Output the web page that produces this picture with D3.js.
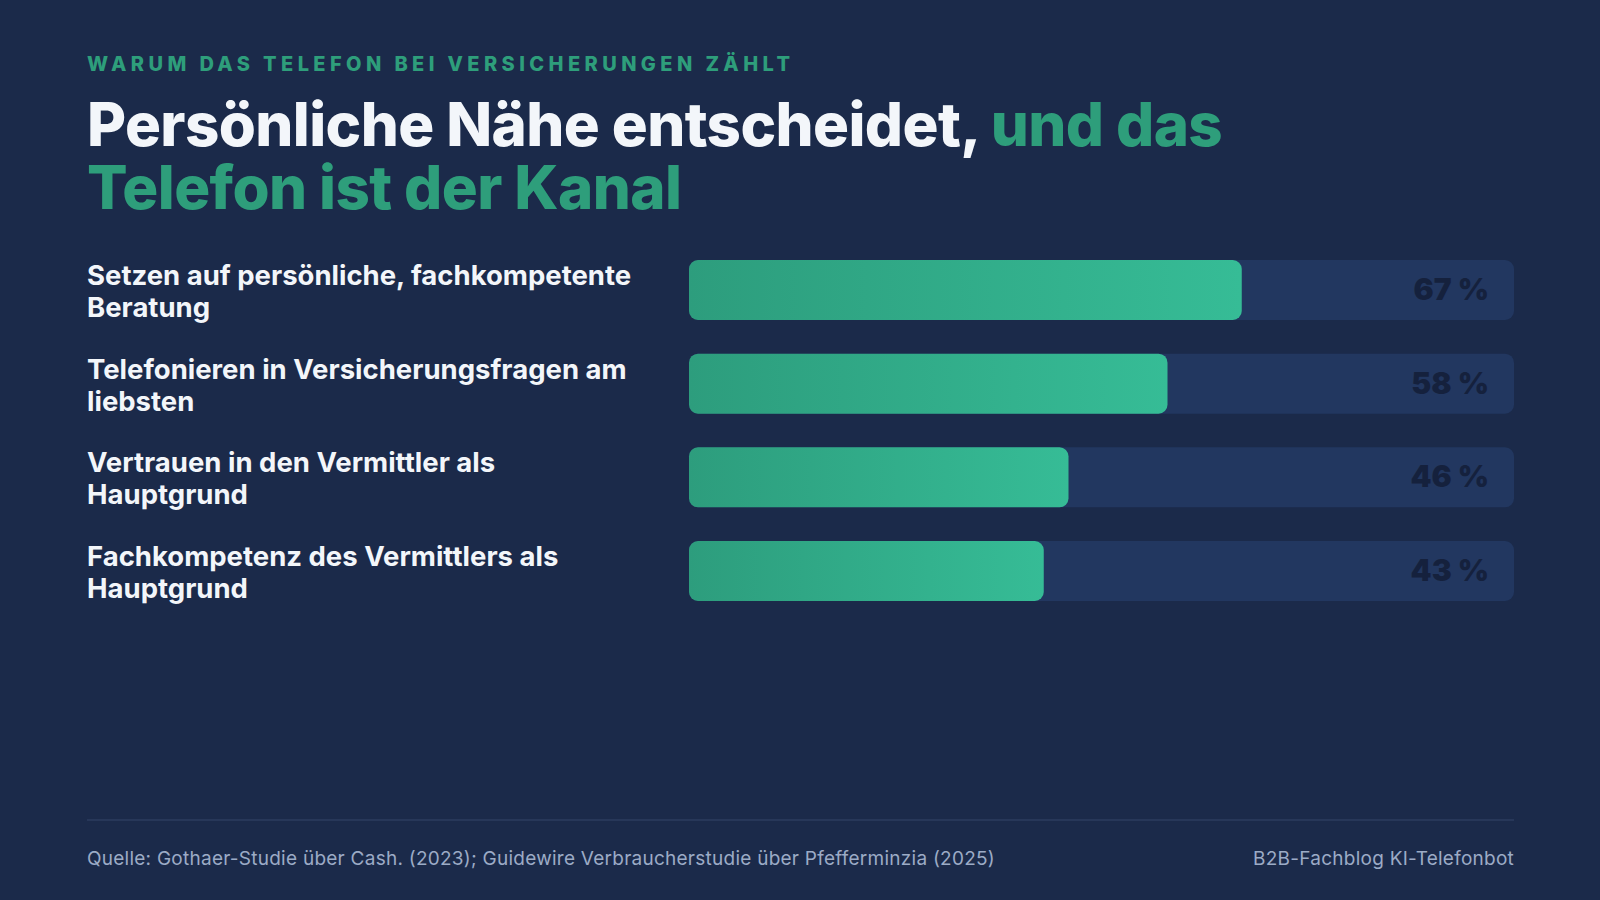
<!DOCTYPE html>
<html>
<head>
<meta charset="utf-8">
<script src="https://cdn.jsdelivr.net/npm/d3@7"></script>
<style>
  html, body { margin: 0; padding: 0; background: #1b2a4a; }
  svg { display: block; font-family: Inter, "Noto Sans", sans-serif; }
</style>
</head>
<body>
<svg width="1600" height="900"></svg>
<script>
// chart data
const categories = [
  "Setzen auf persönliche, fachkompetente|Beratung",
  "Telefonieren in Versicherungsfragen am|liebsten",
  "Vertrauen in den Vermittler als|Hauptgrund",
  "Fachkompetenz des Vermittlers als|Hauptgrund"
];
const values = [67, 58, 46, 43];
const valueLabels = ["67 %", "58 %", "46 %", "43 %"];

const eyebrow = "WARUM DAS TELEFON BEI VERSICHERUNGEN ZÄHLT";
const titleWhite = "Persönliche Nähe entscheidet, ";
const titleGreen1 = "und das";
const titleGreen2 = "Telefon ist der Kanal";
const source = "Quelle: Gothaer-Studie über Cash. (2023); Guidewire Verbraucherstudie über Pfefferminzia (2025)";
const brand = "B2B-Fachblog KI-Telefonbot";

const width = 1600;
const height = 900;
const green = "#2e9e7b";

const svg = d3.select("svg")
    .attr("width", width)
    .attr("height", height);

svg.append("rect")
    .attr("width", width)
    .attr("height", height)
    .attr("fill", "#1b2a4a");

// gradient for the bars
const grad = svg.append("defs").append("linearGradient")
    .attr("id", "barGrad")
    .attr("x1", "0%").attr("x2", "100%")
    .attr("y1", "0%").attr("y2", "0%");
grad.append("stop").attr("offset", "0%").attr("stop-color", "#2d9d7d");
grad.append("stop").attr("offset", "100%").attr("stop-color", "#36bc96");

// header
svg.append("text")
    .attr("x", 87)
    .attr("y", 71)
    .attr("fill", green)
    .attr("font-size", 20)
    .attr("font-weight", 800)
    .attr("letter-spacing", 4.4)
    .text(eyebrow);

const title = svg.append("text")
    .attr("x", 87)
    .attr("y", 146)
    .attr("font-size", 60)
    .attr("font-weight", 800)
    .attr("letter-spacing", -0.6);
title.append("tspan").attr("fill", "#f3f6fa").text(titleWhite);
title.append("tspan").attr("fill", green).text(titleGreen1);
title.append("tspan").attr("x", 87).attr("dy", 63).attr("fill", green).text(titleGreen2);

// scales
const x = d3.scaleLinear()
    .domain([0, 100])
    .range([689, 1514]);

const y = d3.scaleBand()
    .domain(categories)
    .range([260, 601])
    .paddingInner(0.36)
    .paddingOuter(0);

const rows = svg.append("g")
    .selectAll("g")
    .data(categories)
    .join("g")
    .attr("transform", d => `translate(0,${y(d)})`);

// background track
rows.append("rect")
    .attr("x", x(0))
    .attr("width", x(100) - x(0))
    .attr("height", y.bandwidth())
    .attr("rx", 9)
    .attr("fill", "#223760");

// value bar
rows.append("rect")
    .attr("x", x(0))
    .attr("width", (d, i) => x(values[i]) - x(0))
    .attr("height", y.bandwidth())
    .attr("rx", 9)
    .attr("fill", "url(#barGrad)");

// value labels
rows.append("text")
    .attr("x", x(100) - 25)
    .attr("y", y.bandwidth() / 2 + 10)
    .attr("text-anchor", "end")
    .attr("font-size", 30)
    .attr("font-weight", 900)
    .attr("fill", "#15213d")
    .text((d, i) => valueLabels[i]);

// category labels (two lines)
const catText = rows.append("text")
    .attr("x", 87)
    .attr("y", y.bandwidth() / 2 - 5)
    .attr("font-size", 27.5)
    .attr("font-weight", 700)
    .attr("fill", "#f3f6fa");
catText.selectAll("tspan")
    .data(d => d.split("|"))
    .join("tspan")
    .attr("x", 87)
    .attr("dy", (d, i) => i === 0 ? 0 : 32)
    .text(d => d);

// footer
svg.append("line")
    .attr("x1", 87).attr("x2", 1514)
    .attr("y1", 820).attr("y2", 820)
    .attr("stroke", "#2c3d5f")
    .attr("stroke-width", 1.5);

svg.append("text")
    .attr("x", 87)
    .attr("y", 865)
    .attr("font-size", 19)
    .attr("letter-spacing", 0.25)
    .attr("fill", "#9cabc6")
    .text(source);

svg.append("text")
    .attr("x", 1514)
    .attr("y", 865)
    .attr("text-anchor", "end")
    .attr("font-size", 19)
    .attr("letter-spacing", 0.25)
    .attr("fill", "#9cabc6")
    .text(brand);
</script>
</body>
</html>
